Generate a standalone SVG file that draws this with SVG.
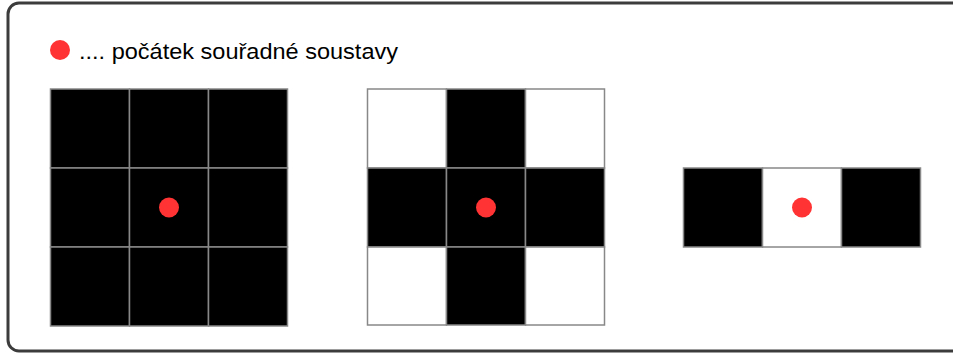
<svg xmlns="http://www.w3.org/2000/svg" width="953" height="353" viewBox="0 0 953 353">
<style>
.frame{fill:#fff;stroke:#3c3c3c;stroke-width:3}
.b{fill:#000;stroke:#888;stroke-width:1.5}
.w{fill:#fff;stroke:#888;stroke-width:1.5}
.dot{fill:#ff3333}
.t{font-family:"Liberation Sans",Arial,sans-serif;font-size:22.5px;fill:#000}
</style>
<rect class="frame" x="8" y="3" width="970" height="348" rx="11"/>
<g id="legend">
<circle class="dot" cx="60" cy="50" r="10"/>
<text class="t" x="79" y="59" textLength="319" lengthAdjust="spacingAndGlyphs">.... počátek souřadné soustavy</text>
</g>
<g id="grid1">
<rect class="b" x="50.5" y="89" width="79" height="79"/>
<rect class="b" x="129.5" y="89" width="79" height="79"/>
<rect class="b" x="208.5" y="89" width="79" height="79"/>
<rect class="b" x="50.5" y="168" width="79" height="79"/>
<rect class="b" x="129.5" y="168" width="79" height="79"/>
<rect class="b" x="208.5" y="168" width="79" height="79"/>
<rect class="b" x="50.5" y="247" width="79" height="79"/>
<rect class="b" x="129.5" y="247" width="79" height="79"/>
<rect class="b" x="208.5" y="247" width="79" height="79"/>
<circle class="dot" cx="169" cy="207.5" r="10"/>
</g>
<g id="grid2">
<rect class="w" x="367.5" y="89" width="79" height="79"/>
<rect class="b" x="446.5" y="89" width="79" height="79"/>
<rect class="w" x="525.5" y="89" width="79" height="79"/>
<rect class="b" x="367.5" y="168" width="79" height="79"/>
<rect class="b" x="446.5" y="168" width="79" height="79"/>
<rect class="b" x="525.5" y="168" width="79" height="79"/>
<rect class="w" x="367.5" y="247" width="79" height="78"/>
<rect class="b" x="446.5" y="247" width="79" height="78"/>
<rect class="w" x="525.5" y="247" width="79" height="78"/>
<circle class="dot" cx="486" cy="207.5" r="10"/>
</g>
<g id="grid3">
<rect class="b" x="683.5" y="168" width="79" height="79"/>
<rect class="w" x="762.5" y="168" width="79" height="79"/>
<rect class="b" x="841.5" y="168" width="79" height="79"/>
<circle class="dot" cx="802" cy="207.5" r="10"/>
</g>
<g id="connectors"/>
</svg>
